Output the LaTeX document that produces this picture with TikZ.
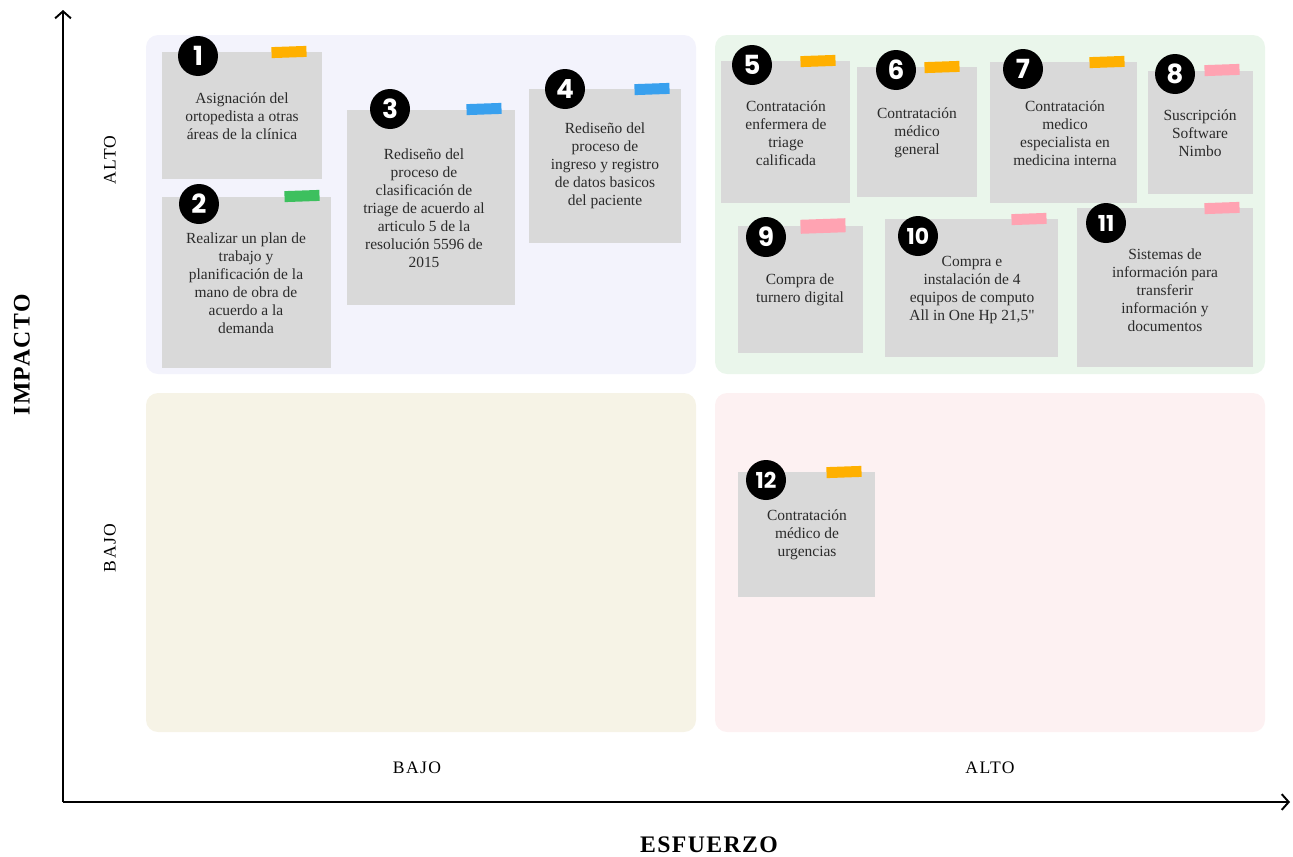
\documentclass[tikz,border=0pt]{standalone}
\usepackage{fontspec}
\setmainfont{Liberation Serif}
\newfontfamily\plainserif{Liberation Serif}
\newfontfamily\badgefont{Poppins}
\usetikzlibrary{fit,arrows.meta}

\definecolor{qlav}{HTML}{F3F3FC}
\definecolor{qgreen}{HTML}{EAF6EB}
\definecolor{qbeige}{HTML}{F6F3E6}
\definecolor{qpink}{HTML}{FDF1F2}
\definecolor{notegray}{HTML}{D9D9D9}
\definecolor{notetxt}{HTML}{2B2B2B}
\definecolor{tapeorange}{HTML}{FFB000}
\definecolor{tapegreen}{HTML}{3DC05E}
\definecolor{tapeblue}{HTML}{38A0EE}
\definecolor{tapepink}{HTML}{FFA3B2}

\begin{document}
\begin{tikzpicture}[x=0.02cm, y=-0.02cm,
  quad/.style={rounded corners=0.24cm, inner sep=0pt},
  note/.style={fill=notegray, inner sep=0pt},
  notetext/.style={align=center, text=notetxt, inner sep=0pt,
                   font=\fontsize{8.8}{10.2}\selectfont},
  badge/.style={circle, fill=black, text=white, minimum size=0.8cm, inner sep=0pt,
                font=\fontsize{15}{15}\selectfont\badgefont\bfseries},
  badgetwo/.style={badge, font=\fontsize{12.5}{12.5}\selectfont\badgefont\bfseries},
  tape/.style={minimum width=0.7cm, minimum height=0.22cm, inner sep=0pt, rotate=2},
  axis/.style={-{Straight Barb[length=4pt,width=9pt]}, line width=1.1pt},
  levellabel/.style={font=\fontsize{10}{12}\selectfont\addfontfeatures{LetterSpace=8}},
  axislabel/.style={font=\fontsize{13.5}{15}\selectfont\bfseries\addfontfeatures{LetterSpace=6}}
]
  \useasboundingbox (0,0) rectangle (1293,856);

  % quadrants
  \node[quad, fill=qlav,   fit={(146,35) (696,374)}]   (qhighlow)  {};
  \node[quad, fill=qgreen, fit={(715,35) (1265,374)}]  (qhighhigh) {};
  \node[quad, fill=qbeige, fit={(146,393) (696,732)}]  (qlowlow)   {};
  \node[quad, fill=qpink,  fit={(715,393) (1265,732)}] (qlowhigh)  {};

  % axes
  \coordinate (origin) at (63,802);
  \coordinate (ytip)   at (63,10);
  \coordinate (xtip)   at (1290,802);
  \draw[axis] (origin) -- (ytip);
  \draw[axis] (origin) -- (xtip);

  \node[axislabel, rotate=90] (impacto)  at (22,355)  {IMPACTO};
  \node[axislabel]            (esfuerzo) at (709,845) {ESFUERZO};
  \node[levellabel, rotate=90] (yalto) at (110,160) {ALTO};
  \node[levellabel, rotate=90] (ybajo) at (110,548) {BAJO};
  \node[levellabel] (xbajo) at (417,768) {BAJO};
  \node[levellabel] (xalto) at (990,768) {ALTO};

  % alto impacto, bajo esfuerzo
  \node[note, fit={(162,52) (322,179)}] (n1) {};
  \node[tape, fill=tapeorange] (tp1) at (289,52) {};
  \node[badge] (b1) at (198,56) {1};
  \node[notetext] (t1) at (242,116) {Asignación del\\ortopedista a otras\\áreas de la clínica};

  \node[note, fit={(162,197) (331,368)}] (n2) {};
  \node[tape, fill=tapegreen] (tp2) at (302,196) {};
  \node[badge] (b2) at (199,204) {2};
  \node[notetext] (t2) at (246,283) {Realizar un plan de\\trabajo y\\planificación de la\\mano de obra de\\acuerdo a la\\demanda};

  \node[note, fit={(347,110) (515,305)}] (n3) {};
  \node[tape, fill=tapeblue] (tp3) at (484,109) {};
  \node[badge] (b3) at (390,109) {3};
  \node[notetext] (t3) at (424,208) {Rediseño del\\proceso de\\clasificación de\\triage de acuerdo al\\articulo 5 de la\\resolución 5596 de\\2015};

  \node[note, fit={(529,89) (681,243)}] (n4) {};
  \node[tape, fill=tapeblue] (tp4) at (652,89) {};
  \node[badge] (b4) at (565,89) {4};
  \node[notetext] (t4) at (605,166) {Rediseño del\\proceso de\\ingreso y registro\\de datos basicos\\del paciente};

  % alto impacto, alto esfuerzo
  \node[note, fit={(721,61) (850,203)}] (n5) {};
  \node[tape, fill=tapeorange] (tp5) at (818,61) {};
  \node[badge] (b5) at (752,65) {5};
  \node[notetext] (t5) at (786,133) {Contratación\\enfermera de\\triage\\calificada};

  \node[note, fit={(857,67) (977,197)}] (n6) {};
  \node[tape, fill=tapeorange] (tp6) at (942,67) {};
  \node[badge] (b6) at (896,70) {6};
  \node[notetext] (t6) at (917,133) {Contratación\\médico\\general};

  \node[note, fit={(990,62) (1137,203)}] (n7) {};
  \node[tape, fill=tapeorange] (tp7) at (1107,62) {};
  \node[badge] (b7) at (1023,69) {7};
  \node[notetext] (t7) at (1065,133) {Contratación\\medico\\especialista en\\medicina interna};

  \node[note, fit={(1148,71) (1253,194)}] (n8) {};
  \node[tape, fill=tapepink] (tp8) at (1222,70) {};
  \node[badge] (b8) at (1175,74) {8};
  \node[notetext] (t8) at (1200,133) {Suscripción\\Software\\Nimbo};

  \node[note, fit={(738,226) (863,353)}] (n9) {};
  \node[tape, fill=tapepink, minimum width=0.9cm, minimum height=0.28cm] (tp9) at (823,226) {};
  \node[badge] (b9) at (766,237) {9};
  \node[notetext] (t9) at (800,290) {Compra de\\turnero digital};

  \node[note, fit={(885,219) (1058,357)}] (n10) {};
  \node[tape, fill=tapepink] (tp10) at (1029,219) {};
  \node[badgetwo] (b10) at (918,236) {10};
  \node[notetext] (t10) at (972,290) {Compra e\\instalación de 4\\equipos de computo\\All in One Hp 21,5{\plainserif"}};

  \node[note, fit={(1077,208) (1253,367)}] (n11) {};
  \node[tape, fill=tapepink] (tp11) at (1222,208) {};
  \node[badgetwo] (b11) at (1106,223) {11};
  \node[notetext] (t11) at (1165,290) {Sistemas de\\información para\\transferir\\información y\\documentos};

  % bajo impacto, alto esfuerzo
  \node[note, fit={(738,472) (875,597)}] (n12) {};
  \node[tape, fill=tapeorange] (tp12) at (844,472) {};
  \node[badgetwo] (b12) at (766,480) {12};
  \node[notetext] (t12) at (807,535) {Contratación\\médico de\\urgencias};
\end{tikzpicture}
\end{document}
